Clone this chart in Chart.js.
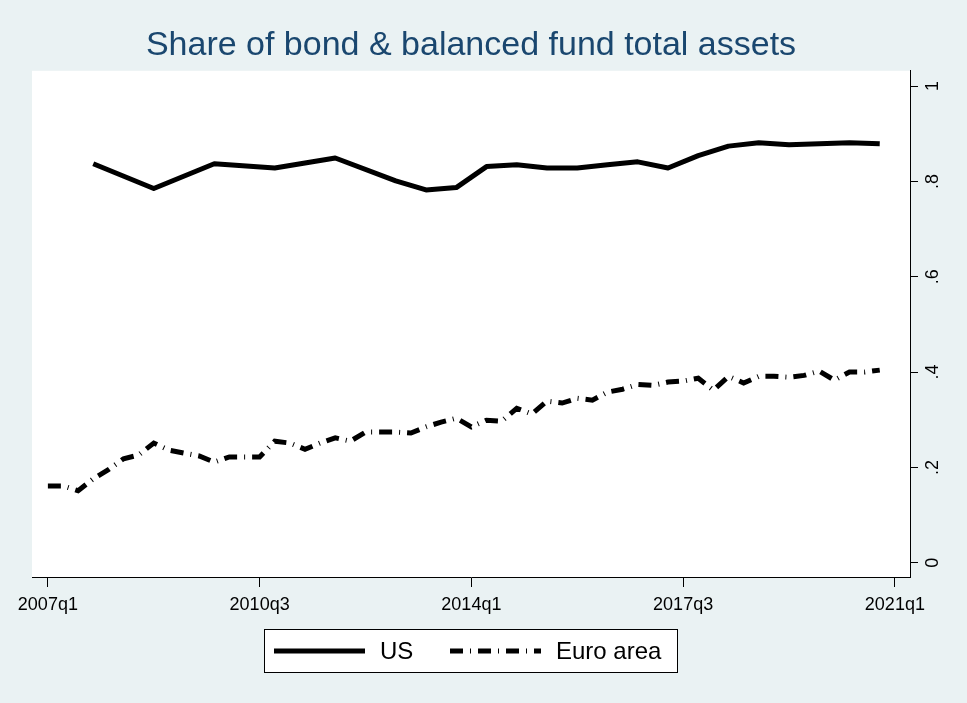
<!DOCTYPE html>
<html>
<head>
<meta charset="utf-8">
<title>Share of bond &amp; balanced fund total assets</title>
<script src="https://cdn.jsdelivr.net/npm/chart.js@4.4.1/dist/chart.umd.min.js"></script>
<style>
  html, body { margin: 0; padding: 0; background: #eaf2f3; }
  #chart { display: block; }
</style>
</head>
<body>
<canvas id="chart" width="967" height="703"></canvas>
<script>
// Share of bond & balanced fund total assets, US vs euro area

const TITLE = "Share of bond & balanced fund total assets";
const FONT = "'Liberation Sans', Arial, sans-serif";

// US: yearly (q4) up to 2012, every two quarters after that
const US_QUARTERS = [
  "2007q4", "2008q4", "2009q4", "2010q4", "2011q4", "2012q4",
  "2013q2", "2013q4", "2014q2", "2014q4", "2015q2", "2015q4",
  "2016q2", "2016q4", "2017q2", "2017q4", "2018q2", "2018q4",
  "2019q2", "2019q4", "2020q2", "2020q4"
];
const US_VALUES = [
  0.837, 0.785, 0.837, 0.828, 0.849, 0.801,
  0.782, 0.787, 0.831, 0.835, 0.828, 0.828,
  0.835, 0.841, 0.828, 0.854, 0.874, 0.881,
  0.877, 0.879, 0.881, 0.879
];

// Euro area: quarterly
const EA_QUARTERS = [
  "2007q1", "2007q2", "2007q3", "2007q4", "2008q1", "2008q2", "2008q3", "2008q4",
  "2009q1", "2009q2", "2009q3", "2009q4", "2010q1", "2010q2", "2010q3", "2010q4",
  "2011q1", "2011q2", "2011q3", "2011q4", "2012q1", "2012q2", "2012q3", "2012q4",
  "2013q1", "2013q2", "2013q3", "2013q4", "2014q1", "2014q2", "2014q3", "2014q4",
  "2015q1", "2015q2", "2015q3", "2015q4", "2016q1", "2016q2", "2016q3", "2016q4",
  "2017q1", "2017q2", "2017q3", "2017q4", "2018q1", "2018q2", "2018q3", "2018q4",
  "2019q1", "2019q2", "2019q3", "2019q4", "2020q1", "2020q2", "2020q3", "2020q4"
];
const EA_VALUES = [
  0.161, 0.161, 0.151, 0.176, 0.195, 0.218, 0.226, 0.251,
  0.236, 0.230, 0.224, 0.211, 0.222, 0.222, 0.222, 0.255,
  0.251, 0.238, 0.251, 0.262, 0.255, 0.274, 0.274, 0.274,
  0.272, 0.285, 0.295, 0.303, 0.285, 0.299, 0.297, 0.324,
  0.312, 0.339, 0.335, 0.345, 0.341, 0.358, 0.364, 0.374,
  0.372, 0.379, 0.381, 0.387, 0.362, 0.391, 0.377, 0.391,
  0.391, 0.389, 0.393, 0.402, 0.383, 0.400, 0.400, 0.404
];

const X_TICKS = ["2007q1", "2010q3", "2014q1", "2017q3", "2021q1"];
const Y_TICKS = [0, 0.2, 0.4, 0.6, 0.8, 1];
const Y_TICK_LABELS = ["0", ".2", ".4", ".6", ".8", "1"];

// quarter string -> quarters since the first x tick
const BASE_YEAR = +X_TICKS[0].slice(0, 4);
function qIndex(q) {
  return (+q.slice(0, 4) - BASE_YEAR) * 4 + (+q.slice(5) - 1);
}

function toPoints(quarters, values) {
  return quarters.map((q, i) => ({ x: qIndex(q), y: values[i] }));
}

// ── plugins ────────────────────────────────────────────────────────────────
const plotBg = {
  id: "plotBg",
  beforeDraw(chart) {
    const { ctx, chartArea: a } = chart;
    ctx.save();
    ctx.fillStyle = "#eaf2f3";
    ctx.fillRect(0, 0, chart.width, chart.height);
    ctx.fillStyle = "#fff";
    ctx.fillRect(a.left, a.top, a.right - a.left, a.bottom - a.top);
    ctx.restore();
  }
};

// Chart.js won't rotate labels on a vertical axis, so draw them turned 90°
const rotatedYLabels = {
  id: "rotatedYLabels",
  afterDraw(chart) {
    const { ctx } = chart;
    const y = chart.scales.y;
    ctx.save();
    ctx.font = "18px " + FONT;
    ctx.fillStyle = "#000";
    ctx.textAlign = "center";
    ctx.textBaseline = "middle";
    y.ticks.forEach(t => {
      ctx.save();
      ctx.translate(y.left + 23, y.getPixelForValue(t.value));
      ctx.rotate(-Math.PI / 2);
      ctx.fillText(t.label, 0, 0);
      ctx.restore();
    });
    ctx.restore();
  }
};

// Stata style legend: one framed row under the x axis
const boxLegend = {
  id: "boxLegend",
  afterDraw(chart) {
    const { ctx, chartArea: a } = chart;
    const w = 414, h = 44;
    const left = Math.round((a.left + a.right) / 2 - w / 2);
    const top = Math.round(a.bottom + 52);
    const midY = top + h / 2;
    const starts = [left + 10, left + 186];

    ctx.save();
    ctx.fillStyle = "#fff";
    ctx.fillRect(left, top, w, h);
    ctx.strokeStyle = "#000";
    ctx.lineWidth = 1;
    ctx.strokeRect(left + 0.5, top + 0.5, w - 1, h - 1);

    ctx.font = "24px " + FONT;
    ctx.textBaseline = "middle";
    ctx.fillStyle = "#000";
    chart.data.datasets.forEach((ds, i) => {
      const x0 = starts[i];
      ctx.beginPath();
      ctx.lineWidth = ds.borderWidth;
      ctx.strokeStyle = ds.borderColor;
      ctx.lineCap = "butt";
      ctx.setLineDash(ds.borderDash || []);
      ctx.moveTo(x0, midY);
      ctx.lineTo(x0 + 91, midY);
      ctx.stroke();
      ctx.setLineDash([]);
      ctx.fillText(ds.label, x0 + 106, midY + 1);
    });
    ctx.restore();
  }
};

// ── chart ──────────────────────────────────────────────────────────────────
Chart.defaults.font.family = FONT;
Chart.defaults.color = "#000";

new Chart(document.getElementById("chart"), {
  type: "line",
  data: {
    datasets: [
      {
        label: "US",
        data: toPoints(US_QUARTERS, US_VALUES),
        borderColor: "#000",
        borderWidth: 5,
        borderJoinStyle: "round",
        pointRadius: 0,
        tension: 0
      },
      {
        label: "Euro area",
        data: toPoints(EA_QUARTERS, EA_VALUES),
        borderColor: "#000",
        borderWidth: 5,
        borderDash: [13, 7, 1, 7],
        borderCapStyle: "butt",
        pointRadius: 0,
        tension: 0
      }
    ]
  },
  options: {
    responsive: false,
    animation: false,
    events: [],
    layout: { padding: { left: 32, right: 0, top: 0, bottom: 0 } },
    plugins: {
      legend: { display: false },
      tooltip: { enabled: false },
      title: {
        display: true,
        text: TITLE,
        color: "#1a476f",
        fullSize: false,
        font: { size: 34, weight: "normal" },
        padding: { top: 25, bottom: 5 }
      }
    },
    scales: {
      x: {
        type: "linear",
        min: -1.05,
        max: 57,
        afterBuildTicks: s => { s.ticks = X_TICKS.map(q => ({ value: qIndex(q) })); },
        afterFit: s => { s.height = 126; },
        grid: { drawOnChartArea: false, tickLength: 10, color: "#000", tickWidth: 1 },
        border: { color: "#000", width: 1 },
        ticks: {
          font: { size: 18 },
          color: "#000",
          padding: 7,
          maxRotation: 0,
          autoSkip: false,
          callback: v => X_TICKS.find(q => qIndex(q) === v)
        }
      },
      y: {
        position: "right",
        min: -0.03,
        max: 1.032,
        afterBuildTicks: s => { s.ticks = Y_TICKS.map(v => ({ value: v })); },
        afterFit: s => { s.width = 57; },
        grid: { drawOnChartArea: false, tickLength: 8, color: "#000", tickWidth: 1 },
        border: { color: "#000", width: 1 },
        ticks: {
          display: false,
          callback: v => Y_TICK_LABELS[Y_TICKS.indexOf(v)]
        }
      }
    }
  },
  plugins: [plotBg, rotatedYLabels, boxLegend]
});
</script>
</body>
</html>
